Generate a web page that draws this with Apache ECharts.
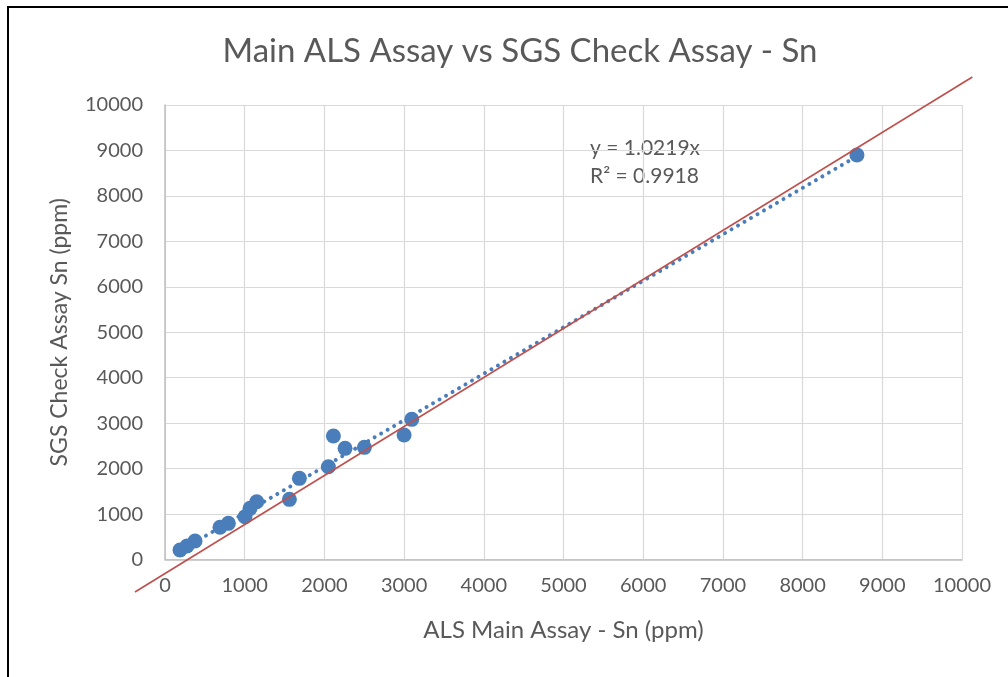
<!DOCTYPE html>
<html>
<head>
<meta charset="utf-8">
<script src="https://cdn.jsdelivr.net/npm/echarts@6/dist/echarts.min.js"></script>
<style>
html,body{margin:0;padding:0;background:#fff;}
#chart{width:1008px;height:677px;}
</style>
</head>
<body>
<div id="chart"></div>
<script>
// ALS main assay (x) vs SGS check assay (y), ppm Sn
const alsMain = [188, 276, 377, 690, 795, 1004, 1067, 1151, 1561, 1686, 2050, 2113, 2259, 2502, 3000, 3096, 8682];
const sgsCheck = [209, 297, 407, 708, 796, 942, 1126, 1272, 1324, 1786, 2042, 2717, 2446, 2468, 2739, 3084, 8899];
// hand-drawn reference line (red), endpoints in data units
const refLineX = [-377, 10130];
const refLineY = [-715, 10615];
// trendline through origin
const trendSlope = 1.0219;
const trendLabel = ['y = 1.0219x', 'R² = 0.9918'];
const axisTicks = [0, 1000, 2000, 3000, 4000, 5000, 6000, 7000, 8000, 9000, 10000];

const points = alsMain.map((x, i) => [x, sgsCheck[i]]);
const xmin = Math.min(...alsMain), xmax = Math.max(...alsMain);
const trend = [[xmin, trendSlope * xmin], [xmax, trendSlope * xmax]];

const font = 'Lato, "Open Sans", sans-serif';
const chart = echarts.init(document.getElementById('chart'), null, {renderer: 'canvas'});
chart.setOption({
  backgroundColor: '#ffffff',
  animation: false,
  title: {
    text: 'Main ALS Assay vs SGS Check Assay - Sn',
    left: 515, top: 30, textAlign: 'center',
    textStyle: {fontFamily: font, fontSize: 33, fontWeight: 'normal', color: '#595959'}
  },
  grid: {left: 165, right: 46, top: 105, bottom: 117.5, containLabel: false},
  xAxis: {
    type: 'value', min: axisTicks[0], max: axisTicks[axisTicks.length - 1], interval: 1000,
    name: 'ALS Main Assay - Sn (ppm)', nameLocation: 'middle', nameGap: 59,
    nameTextStyle: {fontFamily: font, fontSize: 24, color: '#595959'},
    axisLine: {show: true, lineStyle: {color: '#bfbfbf', width: 1.5}},
    axisTick: {show: false},
    axisLabel: {fontFamily: font, fontSize: 20, color: '#595959', margin: 16, formatter: v => String(v)},
    splitLine: {show: true, lineStyle: {color: '#d9d9d9', width: 1.2}}
  },
  yAxis: {
    type: 'value', min: axisTicks[0], max: axisTicks[axisTicks.length - 1], interval: 1000,
    name: 'SGS Check Assay Sn (ppm)', nameLocation: 'middle', nameGap: 94,
    nameTextStyle: {fontFamily: font, fontSize: 23, color: '#595959'},
    axisLine: {show: true, lineStyle: {color: '#bfbfbf', width: 1.5}},
    axisTick: {show: false},
    axisLabel: {fontFamily: font, fontSize: 20, color: '#595959', margin: 22, formatter: v => String(v)},
    splitLine: {show: true, lineStyle: {color: '#d9d9d9', width: 1.2}}
  },
  series: [
    {
      type: 'scatter', data: points, symbol: 'circle', symbolSize: 15,
      itemStyle: {color: '#4a7ebb', opacity: 1}, z: 3
    },
    {
      type: 'line', data: trend, symbol: 'none', clip: false, z: 4,
      lineStyle: {color: '#4a7ebb', width: 4, type: [0.01, 7.5], cap: 'round'}
    },
    {
      type: 'custom', clip: false, z: 5, silent: true,
      data: [[refLineX[0], refLineY[0], refLineX[1], refLineY[1]]],
      encode: {x: [0, 2], y: [1, 3]},
      renderItem: function (params, api) {
        const p1 = api.coord([api.value(0), api.value(1)]);
        const p2 = api.coord([api.value(2), api.value(3)]);
        return {
          type: 'line',
          shape: {x1: p1[0], y1: p1[1], x2: p2[0], y2: p2[1]},
          style: {stroke: '#c0504d', lineWidth: 1.6}
        };
      }
    }
  ],
  graphic: [
    {
      type: 'polyline', silent: true,
      shape: {points: [[8, 677], [8, 7], [1008, 7]]},
      style: {stroke: '#000', lineWidth: 2, fill: null}
    },
    {
      type: 'text', left: 590, top: 134, silent: true,
      style: {text: trendLabel.join('\n'), font: '21px ' + font, fill: '#595959', lineHeight: 28}
    }
  ]
});
</script>
</body>
</html>
